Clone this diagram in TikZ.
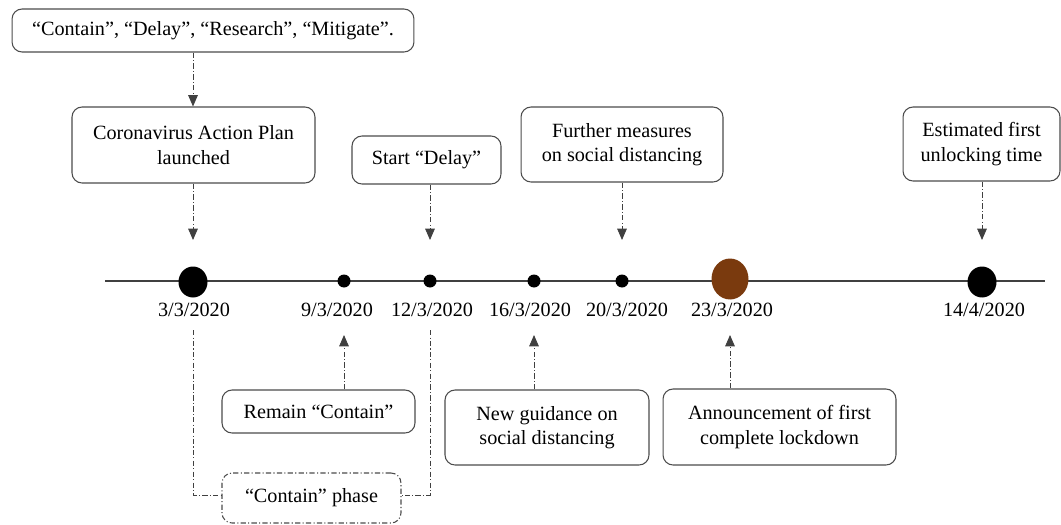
\documentclass[tikz,border=0pt]{standalone}
\usepackage{fontspec}
\setmainfont{Liberation Serif}
\usetikzlibrary{arrows.meta,shapes.geometric}
\definecolor{lockbrown}{RGB}{122,58,14}
\tikzset{
  event/.style={draw=black!70, line width=0.6pt, rounded corners=0.2cm, align=center,
    font=\fontsize{11.5}{14}\selectfont, inner sep=0pt},
  phasebox/.style={event, dash pattern=on 3pt off 1.3pt on 0.6pt off 1.3pt},
  link/.style={draw=black!75, line width=0.5pt, dash pattern=on 3pt off 1.3pt on 0.6pt off 1.3pt,
    -{Triangle[width=5.5pt,length=6.5pt]}},
  phaseline/.style={draw=black!75, line width=0.5pt, dash pattern=on 3pt off 1.3pt on 0.6pt off 1.3pt},
  bigdot/.style={ellipse, fill=black, minimum width=0.58cm, minimum height=0.62cm, inner sep=0pt},
  smalldot/.style={circle, fill=black, minimum size=0.26cm, inner sep=0pt},
  date/.style={font=\fontsize{11.5}{14}\selectfont, inner sep=0pt}
}

\begin{document}
\begin{tikzpicture}[x=0.02cm, y=-0.02cm]
\useasboundingbox (0,0) rectangle (1061,524);
\coordinate (start) at (105,281);
\coordinate (end) at (1045,281);
\coordinate (up) at (0,240);
\coordinate (low) at (0,335);
\coordinate (cut) at (0,330);
\coordinate (join) at (0,495);
\draw [black!75, line width=1pt] (start) -- (end);
\node [bigdot] (d1) at (193,282) {};
\node [smalldot] (d2) at (344,281) {};
\node [smalldot] (d3) at (430,281) {};
\node [smalldot] (d4) at (534,281) {};
\node [smalldot] (d5) at (622,281) {};
\node [bigdot, fill=lockbrown, minimum width=0.74cm, minimum height=0.82cm] (d6) at (730,279) {};
\node [bigdot] (d7) at (982,282) {};
\node [date] (l1) at (194,310) {3/3/2020};
\node [date] (l2) at (337,310) {9/3/2020};
\node [date] (l3) at (432,310) {12/3/2020};
\node [date] (l4) at (530,310) {16/3/2020};
\node [date] (l5) at (627,310) {20/3/2020};
\node [date] (l6) at (732,310) {23/3/2020};
\node [date] (l7) at (984,310) {14/4/2020};
\node [event, minimum width=8.04cm, minimum height=0.86cm] (aims) at (213,30.5)
  {“Contain”, “Delay”, “Research”, “Mitigate”.};
\node [event, minimum width=4.86cm, minimum height=1.52cm] (plan) at (193.5,145)
  {Coronavirus Action Plan\\launched};
\node [event, minimum width=2.98cm, minimum height=0.96cm] (delay) at (426.5,160)
  {Start “Delay”};
\node [event, minimum width=4.04cm, minimum height=1.5cm] (further) at (622,144.5)
  {Further measures\\on social distancing};
\node [event, minimum width=3.14cm, minimum height=1.48cm] (unlock) at (981.5,144)
  {Estimated first\\unlocking time};
\node [event, minimum width=3.86cm, minimum height=0.86cm] (remain) at (318.5,411.5)
  {Remain “Contain”};
\node [event, minimum width=4.08cm, minimum height=1.5cm] (guide) at (547,427.5)
  {New guidance on\\social distancing};
\node [event, minimum width=4.66cm, minimum height=1.52cm] (lock) at (779.5,427)
  {Announcement of first\\complete lockdown};
\node [phasebox, minimum width=3.58cm, minimum height=1cm] (phase) at (311.5,498)
  {“Contain” phase};
\draw [link] (d1 |- aims.south) -- (d1 |- plan.north);
\draw [link] (d1 |- plan.south) -- (d1 |- up);
\draw [link] (d3 |- delay.south) -- (d3 |- up);
\draw [link] (d5 |- further.south) -- (d5 |- up);
\draw [link] (d7 |- unlock.south) -- (d7 |- up);
\draw [link] (d2 |- remain.north) -- (d2 |- low);
\draw [link] (d4 |- guide.north) -- (d4 |- low);
\draw [link] (d6 |- lock.north) -- (d6 |- low);
\draw [phaseline] (d1 |- cut) -- (d1 |- join) -- (phase.west |- join);
\draw [phaseline] (d3 |- cut) -- (d3 |- join) -- (phase.east |- join);
\end{tikzpicture}
\end{document}
